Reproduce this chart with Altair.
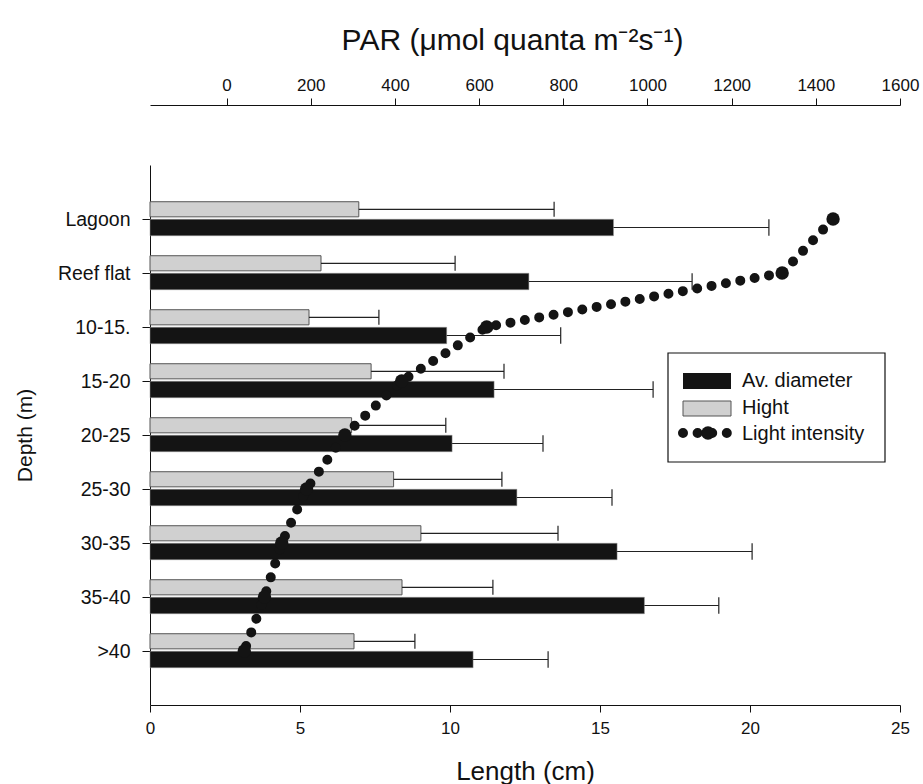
import altair as alt
import pandas as pd

# ---------------- data ----------------
categories = ["Lagoon", "Reef flat", "10-15.", "15-20", "20-25", "25-30", "30-35", "35-40", ">40"]
diameter_mean = [15.45, 12.63, 9.89, 11.47, 10.07, 12.23, 15.57, 16.48, 10.77]
diameter_sd = [5.18, 5.44, 3.80, 5.30, 3.03, 3.17, 4.50, 2.48, 2.50]
hight_mean = [6.96, 5.70, 5.30, 7.37, 6.72, 8.12, 9.03, 8.40, 6.80]
hight_sd = [6.51, 4.47, 2.33, 4.43, 3.14, 3.61, 4.57, 3.03, 2.03]
par_values = [1441, 1320, 618, 416, 281, 190, 131, 90, 42]
legend_labels = ["Av. diameter", "Hight", "Light intensity"]

# ---------------- layout constants ----------------
PLOT_W, PLOT_H = 750, 540
GREY_TOP, GREY_BOT = -0.32, -0.04   # bar extents in category units
BLACK_TOP, BLACK_BOT = 0.005, 0.31
BLACK = "#141414"
GREY = "#d0d0d0"
FONT = "Liberation Sans"
NUMFONT = "Liberation Sans"

idx = list(range(1, len(categories) + 1))
df = pd.DataFrame({
    "cat": categories,
    "idx": idx,
    "d": diameter_mean,
    "d_end": [m + s for m, s in zip(diameter_mean, diameter_sd)],
    "h": hight_mean,
    "h_end": [m + s for m, s in zip(hight_mean, hight_sd)],
})
df["g0"] = df["idx"] + GREY_TOP
df["g1"] = df["idx"] + GREY_BOT
df["gm"] = (df["g0"] + df["g1"]) / 2
df["b0"] = df["idx"] + BLACK_TOP
df["b1"] = df["idx"] + BLACK_BOT
df["bm"] = (df["b0"] + df["b1"]) / 2

light = pd.DataFrame({"idx": idx, "par": par_values})

label_expr = "[" + ",".join("'" + c + "'" for c in categories) + "][datum.value - 1]"

yscale = alt.Scale(domain=[0, 10], reverse=True, nice=False, zero=False)
xscale = alt.Scale(domain=[0, 25], nice=False, zero=False)
parscale = alt.Scale(domain=[-182, 1600], nice=False, zero=False)

y_axis = alt.Axis(
    title="Depth (m)", values=idx, labelExpr=label_expr, tickSize=8,
    labelFont=FONT, labelFontSize=19.5, labelColor="#111", labelPadding=12,
    titleFont=FONT, titleFontSize=21, titleFontWeight="normal", titleColor="#111",
    titleX=-125, titleY=270, titleAlign="center", titleBaseline="middle",
    domainColor="#111", tickColor="#111", grid=False,
)
x_axis = alt.Axis(
    title="Length (cm)", values=[0, 5, 10, 15, 20, 25], tickSize=7, format="d",
    labelFont=NUMFONT, labelFontSize=17, labelColor="#111", labelPadding=8,
    labelFlush=False,
    titleFont=FONT, titleFontSize=26, titleFontWeight="normal", titleColor="#111",
    titleX=375, titleY=66, titleAlign="center", titleBaseline="middle",
    domainColor="#111", tickColor="#111", grid=False,
)
par_axis = alt.Axis(
    orient="top", offset=60,
    title="PAR (\u03bcmol quanta m\u207b\u00b2s\u207b\u00b9)",
    values=list(range(0, 1601, 200)), tickSize=7, format="d",
    labelFont=NUMFONT, labelFontSize=17, labelColor="#111", labelPadding=4,
    labelFlush=False,
    titleFont=FONT, titleFontSize=30, titleFontWeight="normal", titleColor="#111",
    titleX=362, titleY=-65, titleAlign="center", titleBaseline="middle",
    domainColor="#111", tickColor="#111", grid=False,
)

base = alt.Chart(df)

grey_bars = base.mark_rect(fill=GREY, stroke="#555", strokeWidth=1).encode(
    x=alt.X("zero:Q", scale=xscale, axis=x_axis), x2="h:Q",
    y=alt.Y("g0:Q", scale=yscale, axis=y_axis), y2="g1:Q",
).transform_calculate(zero="0")
grey_err = base.mark_rule(color="#222", strokeWidth=1.2).encode(
    x=alt.X("h:Q", scale=xscale, axis=x_axis), x2="h_end:Q",
    y=alt.Y("gm:Q", scale=yscale, axis=y_axis))
grey_cap = base.mark_rule(color="#222", strokeWidth=1.2).encode(
    x=alt.X("h_end:Q", scale=xscale, axis=x_axis),
    y=alt.Y("g0:Q", scale=yscale, axis=y_axis), y2="g1:Q")

black_bars = base.mark_rect(fill=BLACK, stroke="#999", strokeWidth=0.5).encode(
    x=alt.X("zero:Q", scale=xscale, axis=x_axis), x2="d:Q",
    y=alt.Y("b0:Q", scale=yscale, axis=y_axis), y2="b1:Q",
).transform_calculate(zero="0")
black_err = base.mark_rule(color="#222", strokeWidth=1.2).encode(
    x=alt.X("d:Q", scale=xscale, axis=x_axis), x2="d_end:Q",
    y=alt.Y("bm:Q", scale=yscale, axis=y_axis))
black_cap = base.mark_rule(color="#222", strokeWidth=1.2).encode(
    x=alt.X("d_end:Q", scale=xscale, axis=x_axis),
    y=alt.Y("b0:Q", scale=yscale, axis=y_axis), y2="b1:Q")

bars = alt.layer(grey_bars, grey_err, grey_cap, black_bars, black_err, black_cap)

lbase = alt.Chart(light)
light_line = lbase.mark_line(
    color=BLACK, strokeWidth=10, strokeDash=[0, 14.6], strokeCap="round"
).encode(
    x=alt.X("par:Q", scale=parscale, axis=par_axis),
    y=alt.Y("idx:Q", scale=yscale, axis=y_axis),
    order="idx:Q",
)
light_pts = lbase.mark_circle(color=BLACK, size=180, opacity=1).encode(
    x=alt.X("par:Q", scale=parscale, axis=par_axis),
    y=alt.Y("idx:Q", scale=yscale, axis=y_axis),
)
lights = alt.layer(light_line, light_pts)

# ---------------- legend (drawn in pixel space) ----------------
lg = alt.Chart(pd.DataFrame({"label": legend_labels}))
box = lg.mark_rect(fill="white", stroke="#111", strokeWidth=1.2).encode(
    x=alt.value(518), x2=alt.value(735), y=alt.value(188), y2=alt.value(297)
).transform_filter("datum.label == 'Hight'")
sw_black = lg.mark_rect(fill=BLACK).encode(
    x=alt.value(533), x2=alt.value(581), y=alt.value(208), y2=alt.value(224)
).transform_filter("datum.label == 'Av. diameter'")
sw_grey = lg.mark_rect(fill=GREY, stroke="#555", strokeWidth=1).encode(
    x=alt.value(533), x2=alt.value(581), y=alt.value(236), y2=alt.value(251)
).transform_filter("datum.label == 'Hight'")
sw_line = lg.mark_rule(color=BLACK, strokeWidth=10, strokeDash=[0, 14.6], strokeCap="round").encode(
    x=alt.value(533), x2=alt.value(578), y=alt.value(268)
).transform_filter("datum.label == 'Light intensity'")
sw_pt = lg.mark_circle(color=BLACK, size=180, opacity=1).encode(
    x=alt.value(558), y=alt.value(268)
).transform_filter("datum.label == 'Light intensity'")

def legend_text(label, ypix):
    return lg.mark_text(align="left", baseline="middle", font=FONT, fontSize=20, color="#111").encode(
        x=alt.value(592), y=alt.value(ypix), text="label:N"
    ).transform_filter(alt.datum.label == label)

legend = alt.layer(
    box, sw_black, sw_grey, sw_line, sw_pt,
    legend_text(legend_labels[0], 216),
    legend_text(legend_labels[1], 243),
    legend_text(legend_labels[2], 269),
)

chart = alt.layer(bars, lights, legend).resolve_scale(x="independent").properties(
    width=PLOT_W, height=PLOT_H,
    autosize=alt.AutoSizeParams(type="none"),
    padding={"left": 150, "top": 165, "right": 23, "bottom": 79},
).configure_view(stroke=None).configure_axis(grid=False)

chart.save("out.html", embed_options={"renderer": "svg", "actions": False})
